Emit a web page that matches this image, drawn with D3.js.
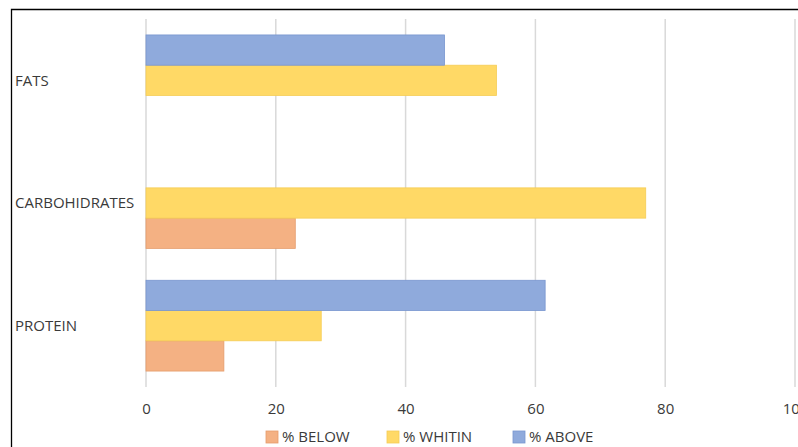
<!DOCTYPE html>
<html lang="en">
<head>
<meta charset="UTF-8">
<style>
  body { margin: 0; background: #fff; }
  svg text { font-family: "Open Sans", "Liberation Sans", sans-serif; fill: #3a3a3a; }
</style>
</head>
<body>
<script src="https://d3js.org/d3.v7.min.js"></script>
<script>
// categories top to bottom
var categories = ["FATS", "CARBOHIDRATES", "PROTEIN"];
// series in legend order
var seriesNames = ["% BELOW", "% WHITIN", "% ABOVE"];
var below  = [0, 23, 12];
var within = [54, 77, 27];
var above  = [46, 0, 61.5];
var xTicks = [0, 20, 40, 60, 80, 100];

var colors = { "% BELOW": "#f4b183", "% WHITIN": "#ffd966", "% ABOVE": "#8faadc" };
var strokes = { "% BELOW": "#e59c6c", "% WHITIN": "#f5cc55", "% ABOVE": "#7896cf" };

var width = 798, height = 447;
var svg = d3.select("body").append("svg")
    .attr("width", width)
    .attr("height", height);

// outer frame (cut off on the right / bottom like the picture)
svg.append("path")
    .attr("d", "M11.5," + height + "V9.5H" + width)
    .attr("fill", "none")
    .attr("stroke", "#000")
    .attr("stroke-width", 1.3);

var x = d3.scaleLinear().domain([0, 100]).range([146, 795]);
var y = d3.scaleBand().domain(categories).range([19, 387]).paddingInner(0.26).paddingOuter(0.13);
// inside each group ABOVE on top, BELOW at bottom
var y1 = d3.scaleBand().domain(["% ABOVE", "% WHITIN", "% BELOW"]).range([0, y.bandwidth()]);

// gridlines
svg.append("g")
    .selectAll("line")
    .data(xTicks)
    .join("line")
    .attr("x1", function(d) { return x(d); })
    .attr("x2", function(d) { return x(d); })
    .attr("y1", 19)
    .attr("y2", 387)
    .attr("stroke", "#d9d9d9")
    .attr("stroke-width", 1.5);

var values = { "% BELOW": below, "% WHITIN": within, "% ABOVE": above };
var rows = [];
categories.forEach(function(c, i) {
    seriesNames.forEach(function(s) {
        if (values[s][i] > 0) rows.push({ cat: c, series: s, value: values[s][i] });
    });
});

svg.append("g")
    .selectAll("rect")
    .data(rows)
    .join("rect")
    .attr("x", x(0))
    .attr("y", function(d) { return y(d.cat) + y1(d.series); })
    .attr("width", function(d) { return x(d.value) - x(0); })
    .attr("height", y1.bandwidth())
    .attr("fill", function(d) { return colors[d.series]; })
    .attr("stroke", function(d) { return strokes[d.series]; })
    .attr("stroke-width", 0.8);

// category labels
svg.append("g")
    .selectAll("text")
    .data(categories)
    .join("text")
    .attr("x", 15)
    .attr("y", function(d) { return y(d) + y.bandwidth() / 2; })
    .attr("dy", "0.35em")
    .attr("font-size", 15)
    .text(function(d) { return d; });

// x axis tick labels
var xAxis = d3.axisBottom(x).tickValues(xTicks).tickSize(0).tickPadding(0);
var gx = svg.append("g").attr("transform", "translate(0,403)").call(xAxis);
gx.select(".domain").remove();
gx.selectAll("text")
    .attr("font-size", 15)
    .attr("fill", "#3a3a3a")
    .style("font-family", "'Open Sans', 'Liberation Sans', sans-serif");

// legend
var legendX = [266, 387, 513];
var lg = svg.append("g")
    .selectAll("g")
    .data(seriesNames)
    .join("g")
    .attr("transform", function(d, i) { return "translate(" + legendX[i] + ",431)"; });
lg.append("rect")
    .attr("width", 12)
    .attr("height", 12)
    .attr("fill", function(d) { return colors[d]; })
    .attr("stroke", function(d) { return strokes[d]; })
    .attr("stroke-width", 0.8);
lg.append("text")
    .attr("x", 16)
    .attr("y", 6)
    .attr("dy", "0.35em")
    .attr("font-size", 15)
    .text(function(d) { return d; });
</script>
</body>
</html>
